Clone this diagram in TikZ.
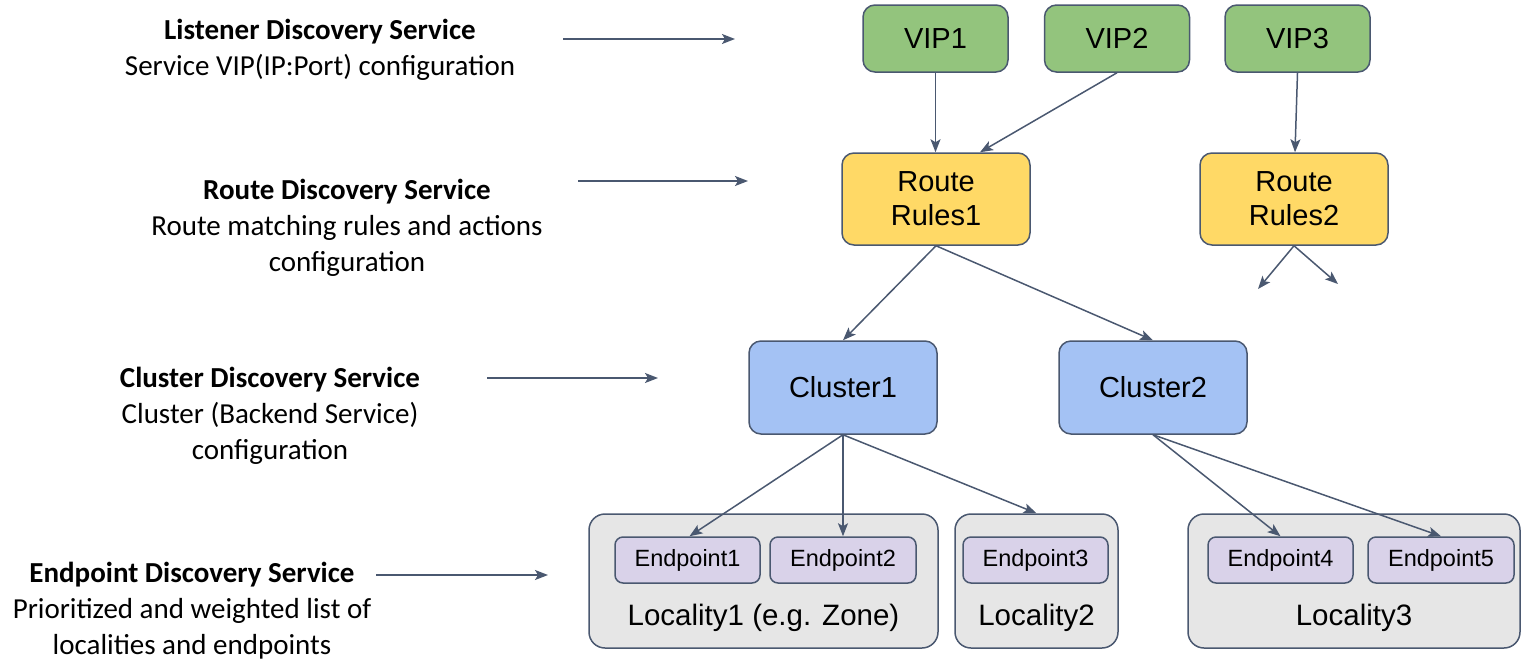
\documentclass[tikz,border=0pt]{standalone}
\usepackage{fontspec}
\setmainfont{Liberation Sans}
\newfontfamily\calib{Carlito}
\usetikzlibrary{arrows.meta,calc}
\definecolor{edgec}{HTML}{4A5870}
\definecolor{vipc}{HTML}{93C47D}
\definecolor{routec}{HTML}{FFD966}
\definecolor{clusc}{HTML}{A4C2F4}
\definecolor{locc}{HTML}{E6E6E6}
\definecolor{epc}{HTML}{D9D2E9}
\tikzset{
  box/.style={draw=edgec, line width=1.5pt, rounded corners=12pt, inner sep=0pt, align=center,
    font=\fontsize{29}{34}\selectfont},
  vipbox/.style={box, fill=vipc, minimum width=145pt, minimum height=67pt},
  routebox/.style={box, fill=routec, minimum width=188pt, minimum height=92pt},
  clusbox/.style={box, fill=clusc, minimum width=188pt, minimum height=93pt},
  locbox/.style={draw=edgec, line width=1.5pt, rounded corners=16pt, fill=locc, minimum height=134pt, inner sep=0pt},
  epbox/.style={draw=edgec, line width=1.5pt, rounded corners=8pt, fill=epc, minimum width=145pt, minimum height=46pt, inner sep=0pt, font=\fontsize{23.5}{26}\selectfont},
  loclabel/.style={font=\fontsize{29.5}{32}\selectfont, inner sep=0pt},
  desc/.style={align=center, font=\calib\fontsize{29}{36}\selectfont, inner sep=0pt},
  conn/.style={draw=edgec, line width=1.5pt, -{Stealth[length=13pt,width=10pt,inset=3pt]}},
}
\begin{document}
\begin{tikzpicture}[x=1pt,y=-1pt]
\useasboundingbox (0,0) rectangle (1523,659);
% left descriptions
\node[desc] (dl) at (320,50) {\textbf{Listener Discovery Service}\\Service VIP(IP:Port) configuration};
\node[desc] (dr) at (347,228) {\textbf{Route Discovery Service}\\Route matching rules and actions\\configuration};
\node[desc] (dc) at (270,416) {\textbf{Cluster Discovery Service}\\Cluster (Backend Service)\\configuration};
\node[desc] (de) at (192,611) {\textbf{Endpoint Discovery Service}\\Prioritized and weighted list of\\localities and endpoints};
\coordinate (a1s) at (563,39); \coordinate (a1e) at (735,39);
\coordinate (a2s) at (578,181); \coordinate (a2e) at (748,181);
\coordinate (a3s) at (487,378); \coordinate (a3e) at (658,378);
\coordinate (a4s) at (376,575); \coordinate (a4e) at (548,575);
\draw[conn] (a1s) -- (a1e);
\draw[conn] (a2s) -- (a2e);
\draw[conn] (a3s) -- (a3e);
\draw[conn] (a4s) -- (a4e);
% VIPs
\node[vipbox] (vip1) at (935.5,38.5) {VIP1};
\node[vipbox] (vip2) at (1117,38.5) {VIP2};
\node[vipbox] (vip3) at (1297.5,38.5) {VIP3};
% routes
\node[routebox] (rr1) at (936,199) {Route\\Rules1};
\node[routebox] (rr2) at (1294,199) {Route\\Rules2};
% clusters
\node[clusbox] (c1) at (843,387.5) {Cluster1};
\node[clusbox] (c2) at (1153,387.5) {Cluster2};
% localities
\node[locbox, minimum width=349pt] (l1) at (763.5,581) {};
\node[locbox, minimum width=163pt] (l2) at (1036.5,581) {};
\node[locbox, minimum width=332pt] (l3) at (1354,581) {};
\node[loclabel] (l1t) at (763.5,618) {Locality1 (e.g. Zone)};
\node[loclabel] (l2t) at (1036.5,618) {Locality2};
\node[loclabel] (l3t) at (1354,618) {Locality3};
% endpoints
\node[epbox] (e1) at (687.5,560) {Endpoint1};
\node[epbox, minimum width=146pt] (e2) at (843,560) {Endpoint2};
\node[epbox] (e3) at (1035.5,560) {Endpoint3};
\node[epbox] (e4) at (1280.5,560) {Endpoint4};
\node[epbox, minimum width=146pt] (e5) at (1441,560) {Endpoint5};
% connectors
\draw[conn] (vip1.south) -- (rr1.north -| vip1.south);
\draw[conn] (vip2.south) -- ($(rr1.north)+(44,0)$);
\draw[conn] (vip3.south) -- ($(rr2.north)+(1,0)$);
\draw[conn] (rr1.south) -- (c1.north);
\draw[conn] (rr1.south) -- (c2.north);
\coordinate (r2a) at (1258,289);
\coordinate (r2b) at (1338,284);
\draw[conn] (rr2.south) -- (r2a);
\draw[conn] (rr2.south) -- (r2b);
\draw[conn] (c1.south) -- ($(e1.north)+(2,0)$);
\draw[conn] (c1.south) -- (e2.north);
\draw[conn] (c1.south) -- (l2.north);
\draw[conn] (c2.south) -- (e4.north);
\draw[conn] (c2.south) -- (e5.north);
\end{tikzpicture}
\end{document}
